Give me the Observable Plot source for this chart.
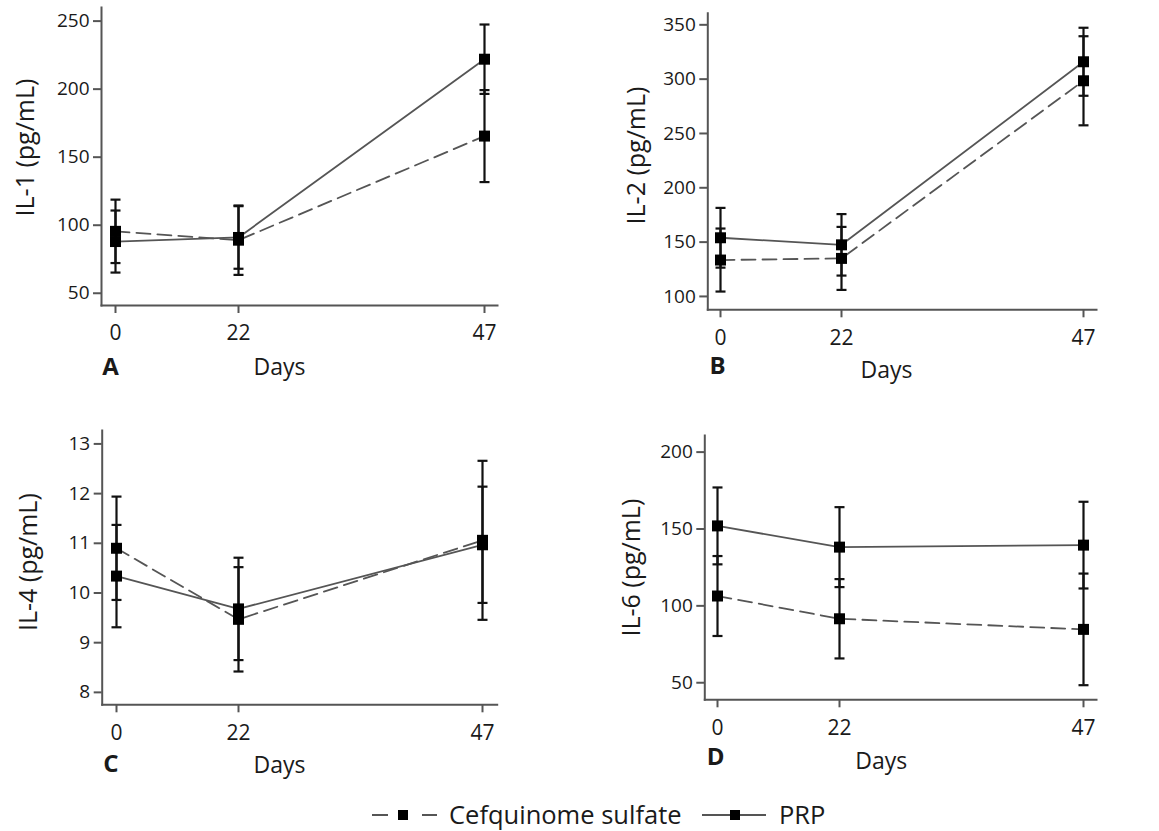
<!DOCTYPE html>
<html><head><meta charset="utf-8">
<script src="https://cdn.jsdelivr.net/npm/d3@7"></script>
<script src="https://cdn.jsdelivr.net/npm/@observablehq/plot@0.6"></script>
<style>
body{margin:0;background:#fff;width:1159px;height:831px;position:relative;overflow:hidden;font-family:"Open Sans",Lato,sans-serif;color:#1a1a1a;}
.panel{position:absolute;}
#legend{position:absolute;top:798px;left:0;width:1159px;height:32px;font-size:25.5px;}
#legend .item{position:absolute;top:0;display:flex;align-items:center;height:32px;}
</style></head><body>
<div id="A" class="panel" style="left:0;top:0"></div>
<div id="B" class="panel" style="left:580px;top:0"></div>
<div id="C" class="panel" style="left:0;top:400px"></div>
<div id="D" class="panel" style="left:580px;top:400px"></div>
<div id="legend"></div>
<script>
// ---- data ----
const days = [0, 22, 47];
const daySlots = [0, 22, "", 47]; // point-scale slots (spacing as in the figure)
const groups = ["Cefquinome sulfate", "PRP"];

const il1Cef = [95.5, 89, 165.5];
const il1CefSd = [23.3, 25.5, 33.8];
const il1Prp = [88, 91, 222];
const il1PrpSd = [22.8, 23, 25.5];
const il1Ticks = [50, 100, 150, 200, 250];

const il2Cef = [133.5, 135, 298.5];
const il2CefSd = [29, 29, 41];
const il2Prp = [154, 147.5, 316];
const il2PrpSd = [27.5, 28.3, 31.3];
const il2Ticks = [100, 150, 200, 250, 300, 350];

const il4Cef = [10.9, 9.47, 11.06];
const il4CefSd = [1.04, 1.05, 1.6];
const il4Prp = [10.34, 9.68, 10.97];
const il4PrpSd = [1.03, 1.03, 1.17];
const il4Ticks = [8, 9, 10, 11, 12, 13];

const il6Cef = [106.4, 91.6, 84.7];
const il6CefSd = [26, 25.8, 36.3];
const il6Prp = [152, 138.2, 139.5];
const il6PrpSd = [25, 26, 28.2];
const il6Ticks = [50, 100, 150, 200];

const yLabels = ["IL-1 (pg/mL)", "IL-2 (pg/mL)", "IL-4 (pg/mL)", "IL-6 (pg/mL)"];
const letters = ["A", "B", "C", "D"];
const xLabel = "Days";

// ---- drawing ----
const FONT = "'Open Sans', Lato, sans-serif";
const LINE = "#555", BAR = "#111", AXIS = "#555", TXT = "#1a1a1a";
const capSymbol = {draw(ctx) { ctx.moveTo(-5, 0); ctx.lineTo(5, 0); }};

function rowsOf(cef, cefSd, prp, prpSd) {
  const r = [];
  days.forEach((d, i) => r.push({day: d, group: groups[0], mean: cef[i], sd: cefSd[i]}));
  days.forEach((d, i) => r.push({day: d, group: groups[1], mean: prp[i], sd: prpSd[i]}));
  return r;
}

function panel(el, cfg) {
  const rows = rowsOf(...cfg.series);
  const cefRows = rows.filter(d => d.group === groups[0]);
  const prpRows = rows.filter(d => d.group === groups[1]);
  const p = Plot.plot({
    width: cfg.width, height: cfg.height,
    marginLeft: cfg.m[0], marginRight: cfg.m[1], marginTop: cfg.m[2], marginBottom: cfg.m[3],
    style: {fontFamily: FONT, color: TXT, background: "transparent", overflow: "visible"},
    x: {type: "point", domain: daySlots, padding: cfg.xPad},
    y: {domain: cfg.yDomain},
    marks: [
      Plot.frame({anchor: "left", stroke: AXIS, strokeWidth: 2}),
      Plot.frame({anchor: "bottom", stroke: AXIS, strokeWidth: 2}),
      Plot.axisY({ticks: cfg.yTicks, tickFormat: d => String(d), tickSize: 8, tickPadding: 4, fontSize: 19, label: null, stroke: AXIS, strokeWidth: 2, fill: TXT}),
      Plot.axisX({ticks: days, tickFormat: d => String(d), tickSize: 8, tickPadding: 12, fontSize: 21, label: null, stroke: AXIS, strokeWidth: 2, fill: TXT}),
      Plot.line(prpRows, {x: "day", y: "mean", stroke: LINE, strokeWidth: 1.8}),
      Plot.line(cefRows, {x: "day", y: "mean", stroke: LINE, strokeWidth: 1.8, strokeDasharray: "14,7"}),
      Plot.ruleX(rows, {x: "day", y1: d => d.mean - d.sd, y2: d => d.mean + d.sd, stroke: BAR, strokeWidth: 2.2}),
      Plot.dot(rows, {x: "day", y: d => d.mean + d.sd, symbol: capSymbol, fill: "none", stroke: BAR, strokeWidth: 2.2}),
      Plot.dot(rows, {x: "day", y: d => d.mean - d.sd, symbol: capSymbol, fill: "none", stroke: BAR, strokeWidth: 2.2}),
      Plot.dot(rows, {x: "day", y: "mean", symbol: "square", r: 6.2, fill: "#000", stroke: "none"}),
      Plot.text([cfg.yLabel], {frameAnchor: "left", rotate: -90, dx: cfg.yl[0], dy: cfg.yl[1], fontSize: 25, fill: TXT, textAnchor: "middle", lineAnchor: "middle"}),
      Plot.text([xLabel], {frameAnchor: "bottom-left", dx: cfg.xl[0], dy: cfg.xl[1], fontSize: 23, fill: TXT, textAnchor: "middle", lineAnchor: "middle"}),
      Plot.text([cfg.letter], {frameAnchor: "bottom-left", dx: cfg.lt[0], dy: cfg.lt[1], fontSize: 24, fontWeight: "bold", fill: TXT, textAnchor: "middle", lineAnchor: "middle"})
    ]
  });
  el.appendChild(p);
}

panel(document.getElementById("A"), {
  series: [il1Cef, il1CefSd, il1Prp, il1PrpSd], yTicks: il1Ticks, yDomain: [41, 260],
  yLabel: yLabels[0], letter: letters[0],
  width: 580, height: 400, m: [101, 83, 7, 95], xPad: 0.108,
  yl: [-76, -9], xl: [178, 62], lt: [9, 62]
});
panel(document.getElementById("B"), {
  series: [il2Cef, il2CefSd, il2Prp, il2PrpSd], yTicks: il2Ticks, yDomain: [87.7, 360.7],
  yLabel: yLabels[1], letter: letters[1],
  width: 579, height: 400, m: [127.3, 63, 12.7, 90.7], xPad: 0.099,
  yl: [-70.6, -6], xl: [178.7, 60.7], lt: [9.7, 56.7]
});
panel(document.getElementById("C"), {
  series: [il4Cef, il4CefSd, il4Prp, il4PrpSd], yTicks: il4Ticks, yDomain: [7.75, 13.27],
  yLabel: yLabels[2], letter: letters[2],
  width: 580, height: 400, m: [101.7, 83.3, 30, 95.7], xPad: 0.108,
  yl: [-73.7, -5.5], xl: [177.3, 60.7], lt: [8.8, 59.7]
});
panel(document.getElementById("D"), {
  series: [il6Cef, il6CefSd, il6Prp, il6PrpSd], yTicks: il6Ticks, yDomain: [38.9, 210.8],
  yLabel: yLabels[3], letter: letters[3],
  width: 579, height: 400, m: [124.3, 63, 35, 100.7], xPad: 0.093,
  yl: [-72.6, 0], xl: [176.4, 62], lt: [10.7, 57.4]
});

// ---- legend ----
const legend = document.getElementById("legend");
const legendItems = [
  {label: groups[0], left: 372, dashed: true},
  {label: groups[1], left: 702, dashed: false}
];
legendItems.forEach(it => {
  const div = document.createElement("div");
  div.className = "item";
  div.style.left = it.left + "px";
  const ns = "http://www.w3.org/2000/svg";
  const svg = document.createElementNS(ns, "svg");
  svg.setAttribute("width", 66); svg.setAttribute("height", 32);
  svg.style.marginRight = "11px";
  const segs = it.dashed ? [[0, 16], [50, 65]] : [[0, 64]];
  segs.forEach(([a, b]) => {
    const l = document.createElementNS(ns, "line");
    l.setAttribute("x1", a); l.setAttribute("x2", b); l.setAttribute("y1", 17); l.setAttribute("y2", 17);
    l.setAttribute("stroke", LINE); l.setAttribute("stroke-width", 2);
    svg.appendChild(l);
  });
  const r = document.createElementNS(ns, "rect");
  const cx = it.dashed ? 31 : 33;
  r.setAttribute("x", cx - 5); r.setAttribute("y", 12); r.setAttribute("width", 10); r.setAttribute("height", 10);
  r.setAttribute("fill", "#000");
  svg.appendChild(r);
  div.appendChild(svg);
  const span = document.createElement("span");
  span.textContent = it.label;
  div.appendChild(span);
  legend.appendChild(div);
});
</script>
</body></html>
